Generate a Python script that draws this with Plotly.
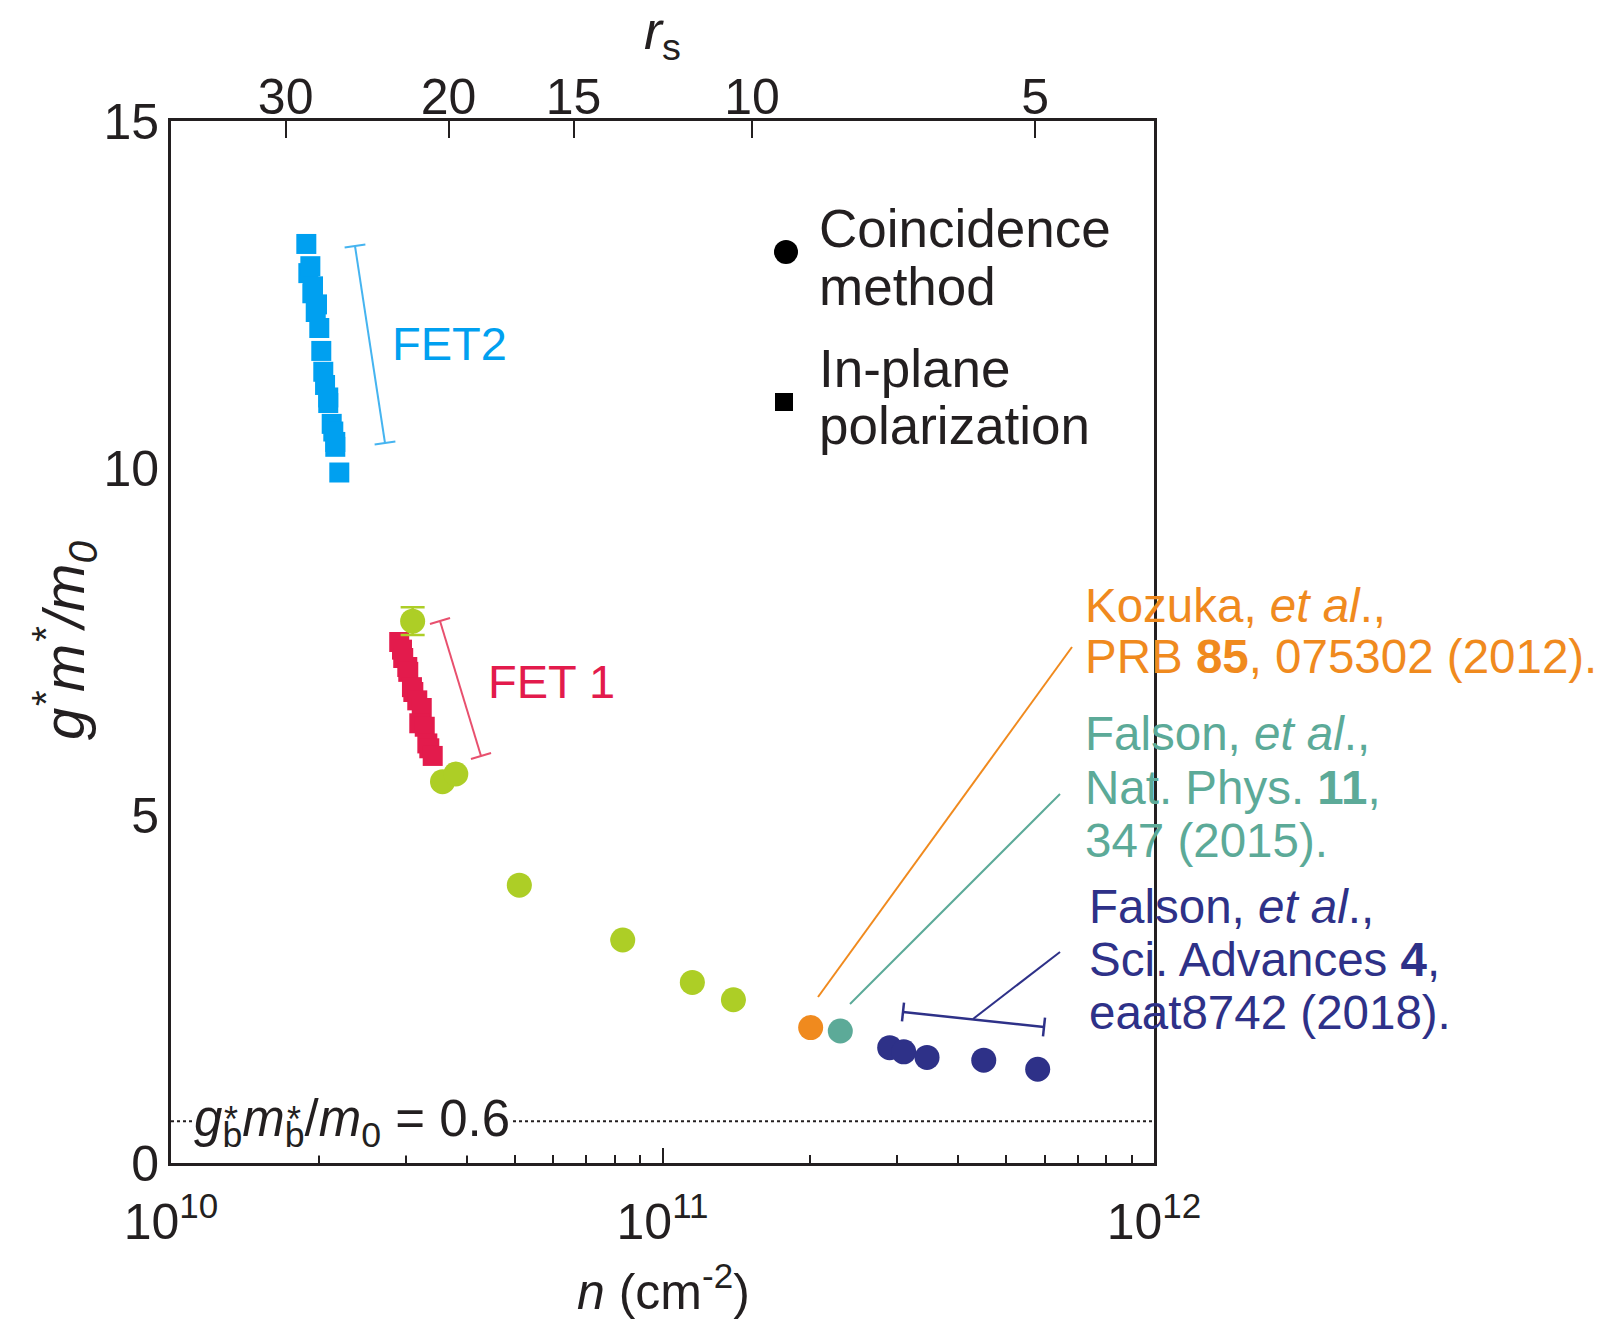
import math
import plotly.graph_objects as go

# ---------------- data ----------------
# FET2, in-plane polarization (squares)
fet2_n = [1.885e10, 1.903e10, 1.921e10, 1.939e10, 1.945e10, 1.970e10, 1.982e10, 2.003e10, 2.022e10,
          2.041e10, 2.058e10, 2.089e10, 2.089e10, 2.123e10, 2.139e10, 2.159e10, 2.159e10, 2.200e10]
fet2_g = [13.23, 12.81, 12.91, 12.52, 12.62, 12.25, 12.36, 12.02, 11.69,
          11.39, 11.20, 11.02, 10.94, 10.64, 10.53, 10.38, 10.31, 9.94]

# FET1, in-plane polarization (squares)
fet1_n = [2.913e10, 2.951e10, 2.968e10, 3.025e10, 3.039e10, 3.092e10, 3.112e10,
          3.170e10, 3.237e10, 3.200e10, 3.283e10, 3.323e10, 3.354e10, 3.408e10]
fet1_g = [7.50, 7.39, 7.27, 7.14, 7.07, 6.85, 6.78,
          6.66, 6.55, 6.33, 6.28, 6.04, 5.97, 5.86]

# coincidence method, this work
coin_n = [3.102e10, 3.568e10, 3.797e10, 5.113e10, 8.30e10, 1.150e11, 1.394e11]
coin_g = [7.80, 5.49, 5.60, 4.00, 3.21, 2.60, 2.35]
coin_err = [0.20, 0, 0, 0, 0, 0, 0]

# literature values
kozuka_n = [2.002e11]
kozuka_g = [1.95]
falson15_n = [2.300e11]
falson15_g = [1.90]
falson18_n = [2.899e11, 3.096e11, 3.453e11, 4.504e11, 5.799e11]
falson18_g = [1.66, 1.60, 1.52, 1.48, 1.35]

# bare-band value
gm_bare = 0.6

# axes
x_ticks = [1e10, 1e11, 1e12]
x_ticktext = ["10<sup>10</sup>", "10<sup>11</sup>", "10<sup>12</sup>"]
x_minor = [k * 10 ** e for e in (10, 11) for k in range(2, 10)]
y_ticks = [0, 5, 10, 15]
rs_labels = ["30", "20", "15", "10", "5"]
rs_tick_n = [1.711e10, 3.670e10, 6.591e10, 1.521e11, 5.734e11]

# ---------------- styling ----------------
INK = "#231f20"
C_FET2 = "#00a0f0"
C_FET2_LINE = "#45b4f0"
C_FET1 = "#e31b4c"
C_FET1_LINE = "#e8506e"
C_GREEN = "#adce26"
C_ORANGE = "#f08a1e"
C_TEAL = "#5caa98"
C_NAVY = "#2e3188"
FONT = "Liberation Sans, Arial, Helvetica, sans-serif"

W, H = 1606, 1322
L, R, T, B = 171, 1154, 121, 1163


def px(x, y):
    """figure pixel -> paper coordinates"""
    return (x - L) / (R - L), (B - y) / (B - T)


fig = go.Figure()

# dotted reference line
fig.add_trace(go.Scatter(x=[1e10, 1e12], y=[gm_bare, gm_bare], mode="lines",
                         line=dict(color=INK, width=2, dash="dot"),
                         xaxis="x2", hoverinfo="skip", showlegend=False))

sq = dict(symbol="square", size=20, line=dict(width=0))
fig.add_trace(go.Scatter(x=fet2_n, y=fet2_g, mode="markers",
                         marker=dict(color=C_FET2, **sq), showlegend=False))
fig.add_trace(go.Scatter(x=fet1_n, y=fet1_g, mode="markers",
                         marker=dict(color=C_FET1, **sq), showlegend=False))

circ = dict(symbol="circle", size=25, line=dict(width=0))
fig.add_trace(go.Scatter(x=coin_n, y=coin_g, mode="markers",
                         marker=dict(color=C_GREEN, **circ),
                         error_y=dict(type="data", array=coin_err, color=C_GREEN,
                                      thickness=2.5, width=12),
                         showlegend=False))
fig.add_trace(go.Scatter(x=kozuka_n, y=kozuka_g, mode="markers",
                         marker=dict(color=C_ORANGE, **circ), showlegend=False))
fig.add_trace(go.Scatter(x=falson15_n, y=falson15_g, mode="markers",
                         marker=dict(color=C_TEAL, **circ), showlegend=False))
fig.add_trace(go.Scatter(x=falson18_n, y=falson18_g, mode="markers",
                         marker=dict(color=C_NAVY, **circ), showlegend=False))

shapes = []


def seg(p0, p1, color, width=2):
    x0, y0 = px(*p0)
    x1, y1 = px(*p1)
    shapes.append(dict(type="line", xref="paper", yref="paper", x0=x0, y0=y0,
                       x1=x1, y1=y1, line=dict(color=color, width=width)))


def bracket(p0, p1, cap, color, width=2):
    seg(p0, p1, color, width)
    dx, dy = p1[0] - p0[0], p1[1] - p0[1]
    n = math.hypot(dx, dy)
    ux, uy = -dy / n * cap / 2, dx / n * cap / 2
    for (cx, cy) in (p0, p1):
        seg((cx - ux, cy - uy), (cx + ux, cy + uy), color, width)


bracket((355, 246), (385, 443), 21, C_FET2_LINE, 2)
bracket((440, 621), (481, 756), 21, C_FET1_LINE, 2)
bracket((903, 1012), (1044, 1027), 19, C_NAVY, 2.5)

seg((818, 997), (1072, 647), C_ORANGE, 2)
seg((850, 1004), (1060, 794), C_TEAL, 2)
seg((973, 1019), (1060, 952), C_NAVY, 2)

# legend keys
cx, cy = px(786, 252)
r = 12 / (R - L)
rv = 12 / (B - T)
shapes.append(dict(type="circle", xref="paper", yref="paper", x0=cx - r, x1=cx + r,
                   y0=cy - rv, y1=cy + rv, fillcolor="black", line=dict(width=0)))
sx, sy = px(784, 402)
r = 9 / (R - L)
rv = 9 / (B - T)
shapes.append(dict(type="rect", xref="paper", yref="paper", x0=sx - r, x1=sx + r,
                   y0=sy - rv, y1=sy + rv, fillcolor="black", line=dict(width=0)))

annotations = []


def text(s, x, baseline, size, color=INK, xanchor="left", bg=None):
    xp, yp = px(x, baseline - 0.35 * size)
    a = dict(text=s, x=xp, y=yp, xref="paper", yref="paper", showarrow=False,
             xanchor=xanchor, yanchor="middle", borderpad=0,
             font=dict(family=FONT, size=size, color=color))
    if bg:
        a["bgcolor"] = bg
    annotations.append(a)


# series labels
text("FET2", 391, 360, 47, C_FET2)
text("FET 1", 487, 698, 47, C_FET1)

# legend text
text("Coincidence", 818, 247, 53)
text("method", 818, 305, 53)
text("In-plane", 818, 387, 53)
text("polarization", 818, 444, 53)

# references
text("Kozuka, <i>et al</i>.,", 1084, 622, 47.5, C_ORANGE)
text("PRB <b>85</b>, 075302 (2012).", 1084, 673, 47.5, C_ORANGE)
text("Falson, <i>et al</i>.,", 1084, 750, 47.5, C_TEAL)
text("Nat. Phys. <b>11</b>,", 1084, 804, 47.5, C_TEAL)
text("347 (2015).", 1084, 857, 47.5, C_TEAL)
text("Falson, <i>et al</i>.,", 1088, 923, 47.5, C_NAVY)
text("Sci. Advances <b>4</b>,", 1088, 976, 47.5, C_NAVY)
text("eaat8742 (2018).", 1088, 1029, 47.5, C_NAVY)

# bare-band label (stars stacked over the subscripts)
text("<i>g</i><sub>b</sub><i>m</i><sub>b</sub>/<i>m</i><sub>0</sub> = 0.6", 193, 1140, 51, INK, bg="white")
text("*", 231, 1132, 36, xanchor="center")
text("*", 294, 1132, 36, xanchor="center")

# axis titles
text("<i>r</i><sub>s</sub>", 662, 53, 54, xanchor="center")
text("<i>n</i> (cm<sup>-2</sup>)", 663, 1305, 50, xanchor="center")
yx, yy = px(64, 640)
annotations.append(dict(text="<i>g<sup>*</sup>m<sup>*</sup>/m<sub>0</sub></i>", x=yx, y=yy,
                        xref="paper", yref="paper", showarrow=False, textangle=-90,
                        xanchor="center", yanchor="middle",
                        font=dict(family=FONT, size=58, color=INK)))

axis_common = dict(showgrid=False, zeroline=False, linecolor=INK, linewidth=3,
                   tickcolor=INK, tickwidth=2,
                   tickfont=dict(family=FONT, size=50, color=INK))

fig.update_layout(
    width=W, height=H,
    margin=dict(l=L, r=W - R, t=T, b=H - B),
    paper_bgcolor="white", plot_bgcolor="white",
    showlegend=False,
    xaxis=dict(type="log", range=[10, 12], showline=True, ticks="inside", ticklen=15,
               tickmode="array", tickvals=x_ticks, ticktext=x_ticktext,
               ticklabelstandoff=13,
               minor=dict(tickmode="array", tickvals=x_minor, ticks="inside", ticklen=8,
                          tickwidth=2, tickcolor=INK, showgrid=False),
               **axis_common),
    xaxis2=dict(type="log", range=[10, 12], overlaying="x", side="top", anchor="y",
                showline=True, ticks="inside", ticklen=17,
                tickmode="array", tickvals=rs_tick_n, ticktext=rs_labels,
                ticklabelstandoff=-16, **axis_common),
    yaxis=dict(range=[0, 15], showline=True, mirror=True, ticks="",
               tickmode="array", tickvals=y_ticks, ticklabelstandoff=-1, **axis_common),
    shapes=shapes,
    annotations=annotations,
)

fig.write_html("out.html")
